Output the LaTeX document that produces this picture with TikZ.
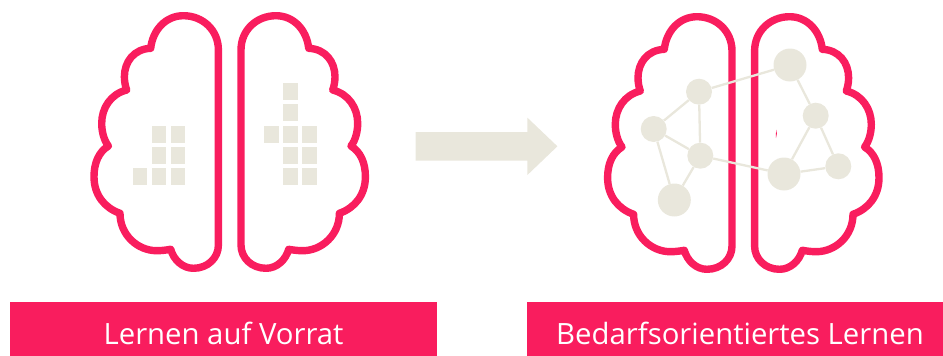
\documentclass[tikz,border=0pt]{standalone}
\usepackage{fontspec}
\setmainfont{Open Sans}
\usetikzlibrary{positioning}
\definecolor{cPink}{RGB}{249,29,94}
\definecolor{cSand}{RGB}{233,231,220}
\tikzset{
	% brain drawing styles
	lobe/.style     ={line width=7.4pt, cPink, line join=round},
	cell/.style     ={rectangle, fill=cSand, minimum width=14.5pt, minimum height=17pt, inner sep=0pt},
	neuron/.style   ={circle, fill=cSand, minimum size=26pt, inner sep=0pt},
	bigneuron/.style={circle, fill=cSand, minimum size=33pt, inner sep=0pt},
	syn/.style      ={line width=2.3pt, cSand},
	banner/.style   ={rectangle, fill=cPink, text=white, font=\fontsize{29.3}{32}\selectfont, minimum height=54.5pt, inner sep=0pt, text height=32pt, text depth=1.4pt},
	hemi/.pic={
		\draw[lobe] (-11.3,50) .. controls (-11.3,30) and (-27,15.7) .. (-46.3,15.7)
			.. controls (-64,15.7) and (-77,30) .. (-79,48.3)
			.. controls (-96,49) and (-105.3,62) .. (-105.3,76.7)
			.. controls (-105.3,81) and (-104.5,86) .. (-103,90)
			.. controls (-119,94) and (-128,108) .. (-128,123.3)
			.. controls (-128,131) and (-126,140) .. (-121.3,146)
			.. controls (-131,152) and (-135.7,163) .. (-135.7,176.7)
			.. controls (-135.7,195) and (-125,208) .. (-109.7,213.3)
			.. controls (-109.7,235) and (-92,250.7) .. (-73,250.7)
			.. controls (-68,250.7) and (-63,250) .. (-59,249.3)
			.. controls (-56,260) and (-47,268.3) .. (-36.3,268.3)
			.. controls (-22,268.3) and (-11.3,258) .. (-11.3,245) -- cycle;
	},
}
\begin{document}
\begin{tikzpicture}[x=1pt, y=-1pt]
	\useasboundingbox (0,0) rectangle (943,356);
	% first brain
	\pic at (229.7,0) {hemi};
	\pic[xscale=-1] at (229.7,0) {hemi};
	\foreach \n/\x/\y in {
		a/132.7/168, b/151.7/125.3, c/151.7/146.7, d/151.7/168,
		e/170.7/125.3, f/170.7/146.7, g/170.7/168,
		h/264/125.3, i/283/82.3, j/283/104, k/283/125.3, l/283/146.7,
		m/283/168, o/302/125.3, p/302/146.7, q/302/168} {
		\node[cell, anchor=north west] (cell\n) at (\x,\y) {};
	}
	% arrow
	\fill[cSand] (415.5,132) -- (527.4,132) -- (527.4,117.7) -- (557.4,146.3)
		-- (527.4,175) -- (527.4,160.7) -- (415.5,160.7) -- cycle;
	% second brain
	\pic at (743.3,1) {hemi};
	\pic[xscale=-1] at (743.3,1) {hemi};
	\fill[cPink] (776.6,129.5) -- (775.8,134) -- (776,138) -- (776.8,134) -- cycle;
	\node[neuron]    (n1) at (699,91.7) {};
	\node[neuron]    (n2) at (653.7,129) {};
	\node[neuron]    (n3) at (700.3,155.7) {};
	\node[bigneuron] (n4) at (674.3,200) {};
	\node[bigneuron] (n5) at (790,65) {};
	\node[neuron]    (n6) at (815.7,115.7) {};
	\node[bigneuron] (n7) at (784,174) {};
	\node[neuron]    (n8) at (838.3,166.3) {};
	\foreach \a/\b in {n1/n5, n1/n2, n1/n3, n2/n3, n2/n4, n3/n4, n3/n7, n5/n6, n6/n7, n6/n8, n7/n8} {
		\draw[syn] (\a) -- (\b);
	}
	% captions
	\node[banner, minimum width=427pt] (left) at (223.6,329) {Lernen auf Vorrat};
	\node[banner, minimum width=416pt] (right) at (735,329) {\hspace*{10pt}Bedarfsorientiertes Lernen};
\end{tikzpicture}
\end{document}
